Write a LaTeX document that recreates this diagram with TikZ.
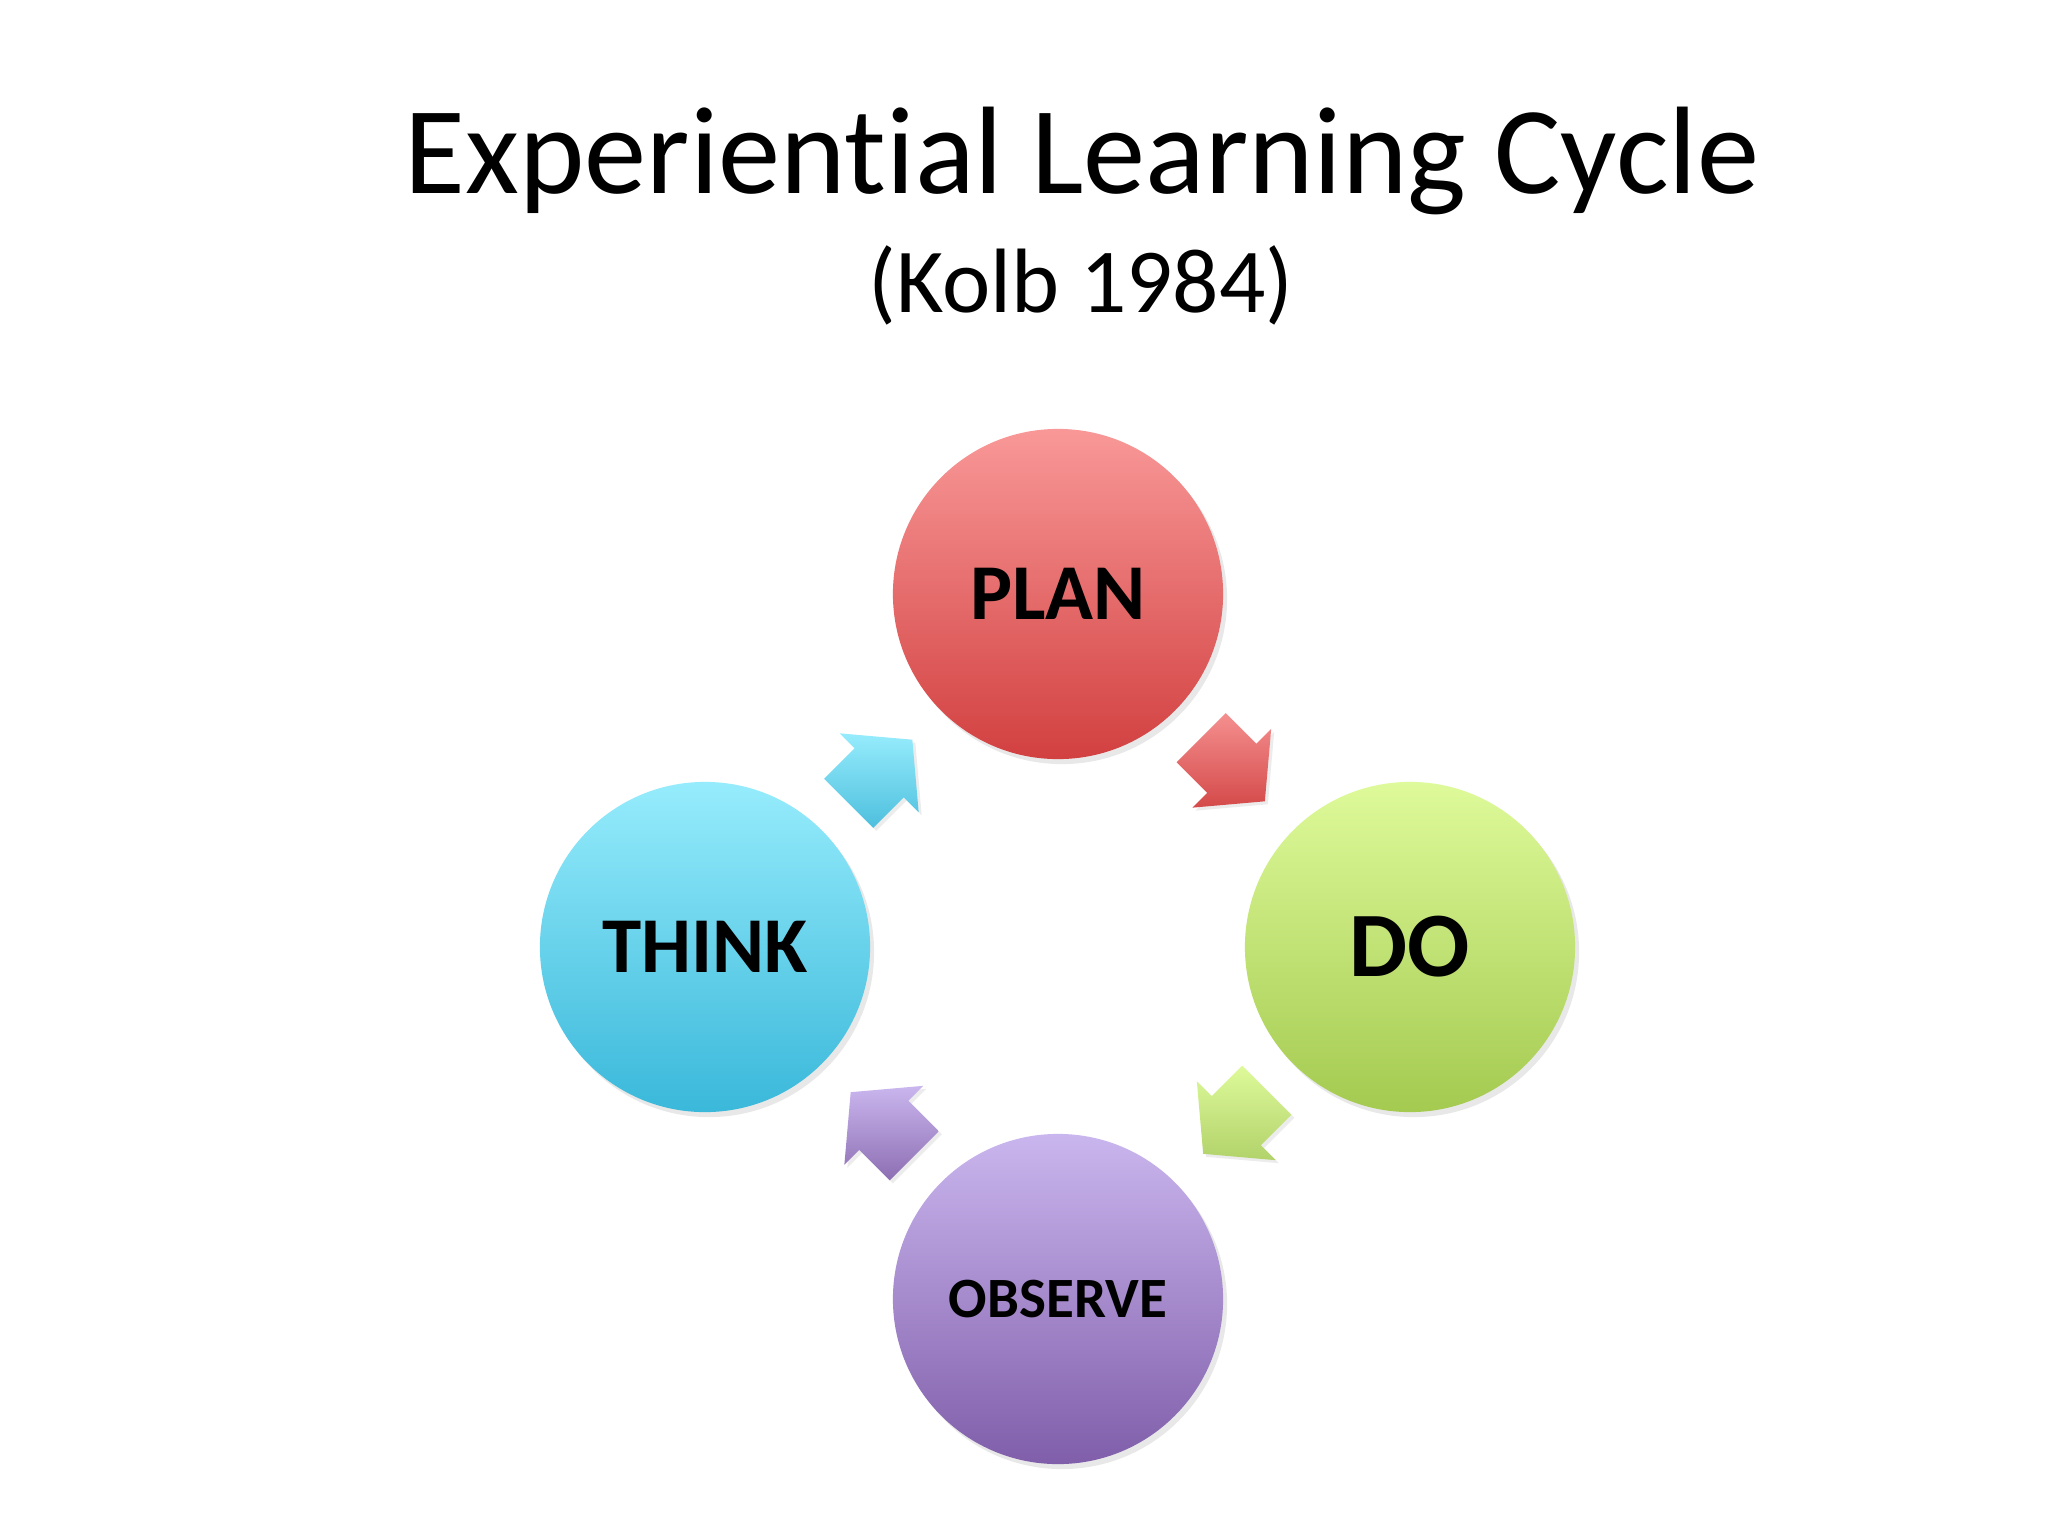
\documentclass[tikz,border=0pt]{standalone}
\usepackage{fontspec}
\setmainfont{Carlito}[Ligatures=NoCommon]
\usetikzlibrary{shapes.arrows,shadows,calc}

\definecolor{plantop}{RGB}{249,152,152}
\definecolor{planbot}{RGB}{210,64,64}
\definecolor{dotop}{RGB}{222,250,154}
\definecolor{dobot}{RGB}{164,202,80}
\definecolor{thinktop}{RGB}{150,236,252}
\definecolor{thinkbot}{RGB}{58,184,218}
\definecolor{obstop}{RGB}{202,182,238}
\definecolor{obsbot}{RGB}{128,94,170}

\begin{document}
\begin{tikzpicture}[x=0.01cm, y=-0.01cm]
    \tikzstyle{stage}=[circle, minimum size=3.3cm, inner sep=0pt, font=\bfseries,
      drop shadow={opacity=0.18, shadow xshift=0.04cm, shadow yshift=-0.05cm}]
    \tikzstyle{turn}=[single arrow, minimum height=0.9cm, inner xsep=0pt, inner ysep=0.34cm,
      single arrow head extend=0.21cm, single arrow tip angle=100,
      drop shadow={opacity=0.15, shadow xshift=0.03cm, shadow yshift=-0.03cm}]

    \useasboundingbox [fill=white] (0,0) rectangle (2048,1536);

    \node [anchor=base, font=\fontsize{35.4}{42}\selectfont] (title) at (1082,193)
      {Experiential Learning Cycle};
    \node [anchor=base, font=\fontsize{26}{31}\selectfont] (source) at (1081,312)
      {(Kolb 1984)};

    \node [stage, top color=plantop, bottom color=planbot] (plan) at (1058,594)
      {\fontsize{22.5}{27}\selectfont PLAN};
    \node [stage, top color=dotop, bottom color=dobot] (do) at (1410,947)
      {\fontsize{26.2}{31}\selectfont DO};
    \node [stage, top color=obstop, bottom color=obsbot] (observe) at (1058,1299)
      {\fontsize{16.2}{20}\selectfont OBSERVE};
    \node [stage, top color=thinktop, bottom color=thinkbot] (think) at (705,947)
      {\fontsize{22.5}{27}\selectfont THINK};

    \node [turn, rotate=-45, top color=plantop!90!planbot, bottom color=planbot!95!white]
      (a) at ($(plan)!0.5!(do)!0.16cm!(plan)$) {};
    \node [turn, rotate=-135, top color=dotop, bottom color=dobot!85!white]
      (b) at ($(do)!0.5!(observe)!0.16cm!(do)$) {};
    \node [turn, rotate=135, top color=obstop, bottom color=obsbot!90!white]
      (c) at ($(observe)!0.5!(think)!0.16cm!(observe)$) {};
    \node [turn, rotate=45, top color=thinktop, bottom color=thinkbot!90!white]
      (d) at ($(think)!0.5!(plan)!0.16cm!(think)$) {};
  \end{tikzpicture}
\end{document}
